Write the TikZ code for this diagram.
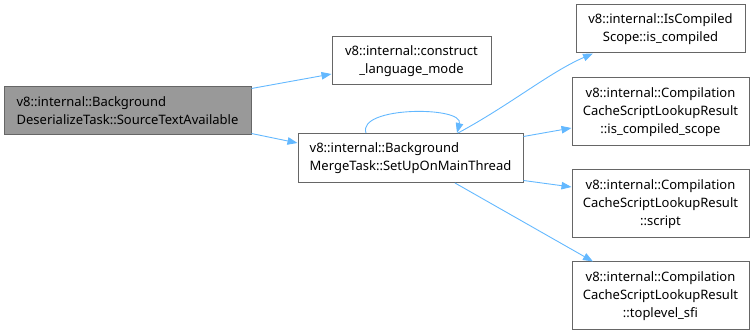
\documentclass[tikz,border=0pt]{standalone}
\usepackage{fontspec}
\setmainfont{Noto Sans}
\usetikzlibrary{arrows.meta}
\definecolor{edgeblue}{HTML}{63B8FF}
\definecolor{boxline}{HTML}{666666}
\definecolor{curfill}{HTML}{999999}
\begin{document}
\begin{tikzpicture}[x=1pt,y=-1pt,
  fn/.style={draw=boxline,line width=1pt,fill=white,inner sep=0pt,
    font=\fontsize{13}{18}\selectfont,text=black},
  cur/.style={fn,fill=curfill},
  call/.style={draw=edgeblue,line width=0.9pt,-{Triangle[length=10pt,width=7.5pt]}}]
\useasboundingbox (0,0) rectangle (755,336);

\node[cur,minimum width=247pt,minimum height=48pt,align=left] (A) at (127.5,111)
  {v8::internal::Background\\DeserializeTask::SourceTextAvailable};
\node[fn,minimum width=159pt,minimum height=48pt,align=center] (B) at (411.5,61)
  {v8::internal::construct\\\_language\_mode};
\node[fn,minimum width=225pt,minimum height=49pt,align=left] (C) at (410.5,158)
  {v8::internal::Background\\MergeTask::SetUpOnMainThread};
\node[fn,minimum width=169pt,minimum height=48pt,align=center] (D) at (660.5,29)
  {v8::internal::IsCompiled\\Scope::is\_compiled};
\node[fn,minimum width=177pt,minimum height=68pt,align=center] (E) at (660.5,112)
  {v8::internal::Compilation\\CacheScriptLookupResult\\::is\_compiled\_scope};
\node[fn,minimum width=177pt,minimum height=68pt,align=center] (F) at (660.5,204)
  {v8::internal::Compilation\\CacheScriptLookupResult\\::script};
\node[fn,minimum width=177pt,minimum height=68pt,align=center] (G) at (660.5,296)
  {v8::internal::Compilation\\CacheScriptLookupResult\\::toplevel\_sfi};

% calls out of SourceTextAvailable
\draw[call] ([yshift=-2pt]A.north east) -- ([yshift=-13pt]B.west);
\draw[call] ([yshift=2pt]A.south east) -- ([yshift=15pt]C.west);

% recursive call
\draw[call] ([xshift=-44.5pt]C.north) .. controls (357,106) and (464,106) .. ([xshift=46.5pt]C.north);

% calls out of SetUpOnMainThread
\draw[call] ([xshift=47.5pt]C.north) .. controls (510,105) and (550,72) .. ([xshift=-67.5pt]D.south);
\draw[call] ([yshift=-3.5pt]C.north east) -- ([yshift=-16pt]E.west);
\draw[call] ([yshift=2.5pt]C.south east) -- ([yshift=17pt]F.west);
\draw[call] ([xshift=44.5pt]C.south) -- ([xshift=-67.5pt]G.north);
\end{tikzpicture}
\end{document}
